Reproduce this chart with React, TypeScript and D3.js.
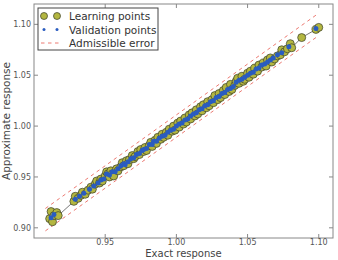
import React, { useEffect, useRef } from "react";
import * as d3 from "d3";

// learning points (exact, approximate)
const learnExact = [0.911, 0.912, 0.913, 0.914, 0.916, 0.917, 0.928, 0.929, 0.931, 0.933, 0.934, 0.936, 0.938, 0.940, 0.941, 0.943, 0.944, 0.946, 0.947, 0.948, 0.950, 0.951, 0.952, 0.953, 0.954, 0.955, 0.956, 0.958, 0.959, 0.961, 0.962, 0.963, 0.965, 0.966, 0.967, 0.969, 0.970, 0.971, 0.973, 0.974, 0.975, 0.977, 0.978, 0.979, 0.981, 0.982, 0.983, 0.985, 0.986, 0.987, 0.989, 0.990, 0.991, 0.993, 0.994, 0.995, 0.997, 0.998, 0.999, 1.001, 1.002, 1.003, 1.005, 1.006, 1.007, 1.009, 1.010, 1.011, 1.013, 1.014, 1.015, 1.017, 1.018, 1.019, 1.021, 1.022, 1.023, 1.025, 1.026, 1.027, 1.029, 1.030, 1.031, 1.033, 1.034, 1.035, 1.037, 1.038, 1.039, 1.041, 1.042, 1.043, 1.044, 1.046, 1.047, 1.048, 1.050, 1.051, 1.052, 1.054, 1.055, 1.057, 1.058, 1.060, 1.061, 1.063, 1.064, 1.066, 1.067, 1.069, 1.071, 1.073, 1.074, 1.076, 1.078, 1.080, 1.081, 1.088, 1.098, 1.100];
const learnApprox = [0.909, 0.916, 0.906, 0.912, 0.915, 0.912, 0.926, 0.931, 0.929, 0.932, 0.935, 0.933, 0.937, 0.940, 0.938, 0.943, 0.946, 0.944, 0.948, 0.946, 0.951, 0.955, 0.953, 0.950, 0.956, 0.953, 0.951, 0.958, 0.956, 0.960, 0.964, 0.961, 0.966, 0.963, 0.967, 0.971, 0.968, 0.970, 0.975, 0.972, 0.977, 0.975, 0.979, 0.976, 0.981, 0.984, 0.980, 0.986, 0.983, 0.989, 0.987, 0.992, 0.989, 0.994, 0.991, 0.997, 0.995, 1.000, 0.996, 1.003, 0.999, 1.005, 1.002, 1.008, 1.004, 1.011, 1.007, 1.013, 1.010, 1.016, 1.012, 1.019, 1.015, 1.021, 1.018, 1.024, 1.020, 1.026, 1.023, 1.030, 1.026, 1.032, 1.028, 1.035, 1.031, 1.038, 1.034, 1.041, 1.036, 1.040, 1.044, 1.047, 1.042, 1.049, 1.044, 1.046, 1.052, 1.048, 1.054, 1.051, 1.057, 1.054, 1.060, 1.058, 1.062, 1.059, 1.065, 1.067, 1.063, 1.066, 1.069, 1.070, 1.075, 1.073, 1.076, 1.081, 1.077, 1.087, 1.095, 1.097];

// validation points (exact, approximate)
const validExact = [0.912, 0.914, 0.929, 0.932, 0.935, 0.939, 0.942, 0.945, 0.947, 0.949, 0.951, 0.953, 0.955, 0.957, 0.959, 0.961, 0.963, 0.964, 0.966, 0.968, 0.970, 0.972, 0.974, 0.976, 0.977, 0.979, 0.981, 0.983, 0.984, 0.986, 0.988, 0.990, 0.992, 0.994, 0.996, 0.998, 1.000, 1.002, 1.004, 1.006, 1.008, 1.010, 1.012, 1.014, 1.016, 1.018, 1.020, 1.022, 1.024, 1.026, 1.028, 1.030, 1.032, 1.034, 1.036, 1.038, 1.040, 1.042, 1.044, 1.046, 1.048, 1.050, 1.052, 1.054, 1.056, 1.058, 1.060, 1.062, 1.064, 1.066, 1.068, 1.071, 1.074, 1.079, 1.098];
const validApprox = [0.910, 0.913, 0.928, 0.931, 0.934, 0.938, 0.941, 0.944, 0.947, 0.948, 0.953, 0.952, 0.955, 0.955, 0.958, 0.961, 0.963, 0.962, 0.965, 0.968, 0.969, 0.972, 0.973, 0.976, 0.977, 0.978, 0.982, 0.982, 0.985, 0.985, 0.988, 0.990, 0.991, 0.994, 0.996, 0.997, 1.000, 1.002, 1.003, 1.006, 1.007, 1.010, 1.012, 1.013, 1.016, 1.017, 1.020, 1.021, 1.024, 1.025, 1.028, 1.029, 1.032, 1.033, 1.036, 1.037, 1.039, 1.043, 1.045, 1.046, 1.048, 1.050, 1.052, 1.053, 1.056, 1.057, 1.060, 1.061, 1.063, 1.065, 1.067, 1.070, 1.072, 1.078, 1.096];

const errorRange = [0.908, 1.100];
const errorTol = 0.011;

const xTicks = [0.95, 1.0, 1.05, 1.1];
const yTicks = [0.9, 0.95, 1.0, 1.05, 1.1];

const legendItems = ["Learning points", "Validation points", "Admissible error"];

export default function App() {
    const ref = useRef<SVGSVGElement>(null);

    useEffect(() => {
        const width = 338;
        const height = 260;
        const margin = { left: 34, right: 5, top: 4, bottom: 22 };
        const font = "DejaVu Sans, sans-serif";

        const svg = d3.select(ref.current);
        svg.selectAll("*").remove();

        const x = d3.scaleLinear().domain([0.9, 1.11]).range([margin.left, width - margin.right]);
        const y = d3.scaleLinear().domain([0.89, 1.12]).range([height - margin.bottom, margin.top]);

        svg.append("rect")
            .attr("width", width)
            .attr("height", height)
            .attr("fill", "white");

        // admissible error bands
        [errorTol, -errorTol].forEach((d) => {
            svg.append("line")
                .attr("x1", x(errorRange[0]))
                .attr("y1", y(errorRange[0] + d))
                .attr("x2", x(errorRange[1]))
                .attr("y2", y(errorRange[1] + d))
                .attr("stroke", "#ec7a72")
                .attr("stroke-width", 1)
                .attr("stroke-dasharray", "3.5,3.5");
        });

        const learn = learnExact.map((v, i) => [v, learnApprox[i]] as [number, number]);
        const valid = validExact.map((v, i) => [v, validApprox[i]] as [number, number]);

        const line = d3.line<[number, number]>()
            .x((d) => x(d[0]))
            .y((d) => y(d[1]));

        svg.append("path")
            .datum(learn)
            .attr("d", line)
            .attr("fill", "none")
            .attr("stroke", "#555")
            .attr("stroke-width", 0.8);

        svg.selectAll("circle.learn")
            .data(learn)
            .enter()
            .append("circle")
            .attr("class", "learn")
            .attr("cx", (d) => x(d[0]))
            .attr("cy", (d) => y(d[1]))
            .attr("r", 4)
            .attr("fill", "#b3b640")
            .attr("stroke", "#3a3d2a")
            .attr("stroke-width", 0.7);

        svg.selectAll("circle.valid")
            .data(valid)
            .enter()
            .append("circle")
            .attr("class", "valid")
            .attr("cx", (d) => x(d[0]))
            .attr("cy", (d) => y(d[1]))
            .attr("r", 2.5)
            .attr("fill", "#2a5cc0");

        // frame
        svg.append("rect")
            .attr("x", margin.left)
            .attr("y", margin.top)
            .attr("width", width - margin.left - margin.right)
            .attr("height", height - margin.top - margin.bottom)
            .attr("fill", "none")
            .attr("stroke", "#888")
            .attr("stroke-width", 1);

        // ticks (inside, all four sides)
        const tickColor = "#888";
        xTicks.forEach((t) => {
            svg.append("line").attr("x1", x(t)).attr("x2", x(t))
                .attr("y1", y.range()[0]).attr("y2", y.range()[0] - 4)
                .attr("stroke", tickColor);
            svg.append("line").attr("x1", x(t)).attr("x2", x(t))
                .attr("y1", y.range()[1]).attr("y2", y.range()[1] + 4)
                .attr("stroke", tickColor);
            svg.append("text")
                .attr("x", x(t))
                .attr("y", y.range()[0] + 7)
                .attr("text-anchor", "middle")
                .attr("font-family", font)
                .attr("font-size", 8)
                .attr("fill", "#555")
                .text(d3.format(".2f")(t));
        });
        yTicks.forEach((t) => {
            svg.append("line").attr("y1", y(t)).attr("y2", y(t))
                .attr("x1", x.range()[0]).attr("x2", x.range()[0] + 4)
                .attr("stroke", tickColor);
            svg.append("line").attr("y1", y(t)).attr("y2", y(t))
                .attr("x1", x.range()[1]).attr("x2", x.range()[1] - 4)
                .attr("stroke", tickColor);
            svg.append("text")
                .attr("x", x.range()[0] - 3)
                .attr("y", y(t) + 3)
                .attr("text-anchor", "end")
                .attr("font-family", font)
                .attr("font-size", 8)
                .attr("fill", "#555")
                .text(d3.format(".2f")(t));
        });

        // axis labels
        svg.append("text")
            .attr("x", (x.range()[0] + x.range()[1]) / 2)
            .attr("y", height - 3)
            .attr("text-anchor", "middle")
            .attr("font-family", font)
            .attr("font-size", 10)
            .attr("fill", "#444")
            .text("Exact response");
        svg.append("text")
            .attr("transform", "translate(10," + (y.range()[0] + y.range()[1]) / 2 + ") rotate(-90)")
            .attr("text-anchor", "middle")
            .attr("font-family", font)
            .attr("font-size", 10.5)
            .attr("fill", "#444")
            .text("Approximate response");

        // legend
        const lg = svg.append("g").attr("transform", "translate(38,8)");
        lg.append("rect")
            .attr("width", 120)
            .attr("height", 42)
            .attr("fill", "white")
            .attr("stroke", "#444")
            .attr("stroke-width", 1);
        legendItems.forEach((label, i) => {
            const cy = 8 + i * 13.5;
            if (i === 0) {
                [6, 19].forEach((cx) => {
                    lg.append("circle").attr("cx", cx).attr("cy", cy).attr("r", 3.5)
                        .attr("fill", "#b3b640").attr("stroke", "#3a3d2a").attr("stroke-width", 0.7);
                });
            } else if (i === 1) {
                [6, 19].forEach((cx) => {
                    lg.append("circle").attr("cx", cx).attr("cy", cy).attr("r", 1.5)
                        .attr("fill", "#2a5cc0");
                });
            } else {
                lg.append("line").attr("x1", 3).attr("x2", 22).attr("y1", cy).attr("y2", cy)
                    .attr("stroke", "#ec7a72").attr("stroke-dasharray", "3.5,3.5");
            }
            lg.append("text")
                .attr("x", 31)
                .attr("y", cy + 4)
                .attr("font-family", font)
                .attr("font-size", 10.5)
                .attr("fill", "#333")
                .text(label);
        });
    }, []);

    return (
        <svg ref={ref} width={338} height={260}
            style={{ position: "absolute", left: 0, top: 0, display: "block" }} />
    );
}
